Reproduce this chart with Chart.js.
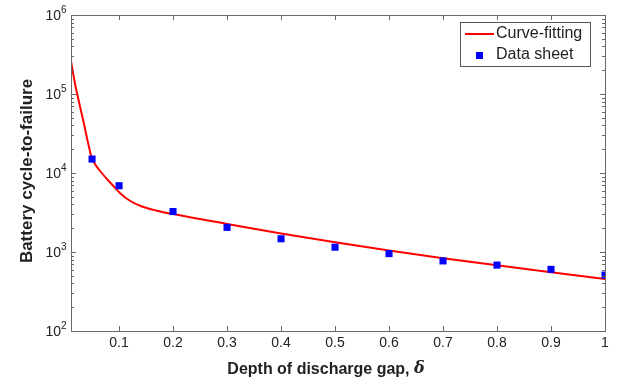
<!DOCTYPE html>
<html>
<head>
<meta charset="utf-8">
<script src="https://cdn.jsdelivr.net/npm/chart.js@4.4.1/dist/chart.umd.min.js"></script>
<style>
  html, body { margin: 0; padding: 0; background: #fff; }
  #wrap { width: 619px; height: 387px; position: relative; }
</style>
</head>
<body>
<div id="wrap"><canvas id="c"></canvas></div>
<script>
// --- data ---
const curveDelta  = [0.011, 0.0185, 0.028, 0.035, 0.04, 0.044, 0.048, 0.052, 0.057, 0.065, 0.076, 0.089, 0.102, 0.12, 0.14, 0.17, 0.2, 0.3, 0.4, 0.5, 0.6, 0.7, 0.8, 0.9, 1.0];
const curveCycles = [260000, 135000, 68000, 42000, 29000, 21800, 16800, 14300, 12500, 10600, 8600, 6900, 5550, 4450, 3820, 3330, 3020, 2265, 1718, 1327, 1045, 836, 678, 555, 456];

const sheetDelta  = [0.05, 0.1, 0.2, 0.3, 0.4, 0.5, 0.6, 0.7, 0.8, 0.9, 1.0];
const sheetCycles = [15000, 6900, 3250, 2050, 1470, 1150, 955, 771, 683, 603, 510];

const xTicks = [0.1, 0.2, 0.3, 0.4, 0.5, 0.6, 0.7, 0.8, 0.9, 1];
const xTickLabels = ['0.1', '0.2', '0.3', '0.4', '0.5', '0.6', '0.7', '0.8', '0.9', '1'];
const yTicks = [100, 1000, 10000, 100000, 1000000];
const yTickExp = ['2', '3', '4', '5', '6'];

const FONT = '"Liberation Sans", Arial, Helvetica, sans-serif';

// MATLAB-like box, inward ticks, labels and legend
const matlabAxes = {
    id: 'matlabAxes',
    afterDatasetsDraw(chart) {
        const { ctx, chartArea: a, scales } = chart;
        const xs = scales.x, ys = scales.y;
        ctx.save();
        ctx.strokeStyle = '#6a6a6a';
        ctx.lineWidth = 1;

        // major x ticks (bottom + top)
        ctx.beginPath();
        xTicks.forEach(v => {
            const px = Math.round(xs.getPixelForValue(v)) + 0.5;
            ctx.moveTo(px, a.bottom); ctx.lineTo(px, a.bottom - 5);
            ctx.moveTo(px, a.top); ctx.lineTo(px, a.top + 5);
        });
        // y ticks, major and minor (left + right)
        yTicks.forEach((d, i) => {
            const py = Math.round(ys.getPixelForValue(d)) + 0.5;
            ctx.moveTo(a.left, py); ctx.lineTo(a.left + 5, py);
            ctx.moveTo(a.right, py); ctx.lineTo(a.right - 5, py);
            if (i < yTicks.length - 1) {
                for (let m = 2; m <= 9; m++) {
                    const my = Math.round(ys.getPixelForValue(d * m)) + 0.5;
                    ctx.moveTo(a.left, my); ctx.lineTo(a.left + 3, my);
                    ctx.moveTo(a.right, my); ctx.lineTo(a.right - 3, my);
                }
            }
        });
        ctx.stroke();

        // the box
        ctx.strokeRect(Math.round(a.left) + 0.5, Math.round(a.top) + 0.5,
                       Math.round(a.right - a.left), Math.round(a.bottom - a.top));

        // tick labels
        ctx.fillStyle = '#222';
        ctx.font = '14px ' + FONT;
        ctx.textAlign = 'center';
        ctx.textBaseline = 'middle';
        xTicks.forEach((v, i) => {
            ctx.fillText(xTickLabels[i], xs.getPixelForValue(v), a.bottom + 12);
        });
        yTicks.forEach((d, i) => {
            const py = ys.getPixelForValue(d);
            ctx.font = '14px ' + FONT;
            ctx.textAlign = 'right';
            ctx.fillText('10', a.left - 10, py + 1);
            ctx.font = '10px ' + FONT;
            ctx.textAlign = 'left';
            ctx.fillText(yTickExp[i], a.left - 10, py - 5);
        });

        // axis titles
        ctx.font = 'bold 17px ' + FONT;
        ctx.textAlign = 'center';
        ctx.save();
        ctx.translate(27, (a.top + a.bottom) / 2 - 2);
        ctx.rotate(-Math.PI / 2);
        ctx.fillText('Battery cycle-to-failure', 0, 0);
        ctx.restore();

        const t1 = 'Depth of discharge gap, ';
        const t2 = '\u03b4';
        ctx.font = 'bold 16px ' + FONT;
        const w1 = ctx.measureText(t1).width;
        ctx.font = 'italic bold 16px "DejaVu Serif", serif';
        const w2 = ctx.measureText(t2).width;
        const x0 = 326 - (w1 + w2) / 2;
        ctx.textAlign = 'left';
        ctx.font = 'bold 16px ' + FONT;
        ctx.fillText(t1, x0, 370);
        ctx.font = 'italic bold 16px "DejaVu Serif", serif';
        ctx.fillText(t2, x0 + w1, 369);

        // legend
        ctx.fillStyle = '#fff';
        ctx.fillRect(460.5, 22.5, 130, 44);
        ctx.strokeStyle = '#555';
        ctx.lineWidth = 1;
        ctx.strokeRect(460.5, 22.5, 130, 44);
        ctx.strokeStyle = '#ff0000';
        ctx.lineWidth = 2;
        ctx.beginPath();
        ctx.moveTo(465, 34); ctx.lineTo(494, 34);
        ctx.stroke();
        ctx.fillStyle = '#0000ff';
        ctx.fillRect(476, 52, 7, 7);
        ctx.fillStyle = '#222';
        ctx.font = '16px ' + FONT;
        ctx.textBaseline = 'middle';
        ctx.fillText('Curve-fitting', 496, 34);
        ctx.fillText('Data sheet', 496, 55);
        ctx.restore();
    }
};

new Chart(document.getElementById('c'), {
    type: 'scatter',
    data: {
        datasets: [
            {
                label: 'Curve-fitting',
                data: curveDelta.map((d, i) => ({ x: d, y: curveCycles[i] })),
                showLine: true,
                borderColor: '#ff0000',
                borderWidth: 2,
                pointRadius: 0,
                cubicInterpolationMode: 'monotone',
                order: 2
            },
            {
                label: 'Data sheet',
                data: sheetDelta.map((d, i) => ({ x: d, y: sheetCycles[i] })),
                showLine: false,
                pointStyle: 'rect',
                pointRadius: 5,
                backgroundColor: '#0000ff',
                borderColor: '#0000ff',
                borderWidth: 0,
                order: 1
            }
        ]
    },
    options: {
        responsive: true,
        maintainAspectRatio: false,
        animation: false,
        devicePixelRatio: 1,
        layout: { padding: { left: 71, right: 14, top: 15, bottom: 56 } },
        plugins: { legend: { display: false }, tooltip: { enabled: false } },
        scales: {
            x: {
                type: 'linear', min: 0.011, max: 1,
                grid: { display: false, drawTicks: false },
                border: { display: false },
                ticks: { display: false }
            },
            y: {
                type: 'logarithmic', min: 100, max: 1000000,
                grid: { display: false, drawTicks: false },
                border: { display: false },
                ticks: { display: false }
            }
        }
    },
    plugins: [matlabAxes]
});
</script>
</body>
</html>
